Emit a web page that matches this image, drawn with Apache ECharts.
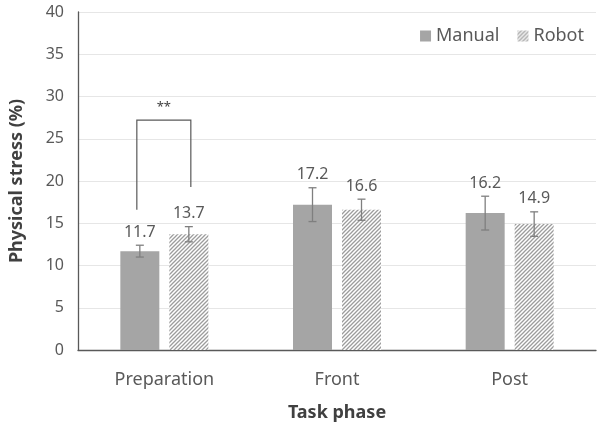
<!DOCTYPE html>
<html>
<head>
<meta charset="utf-8">
<script src="https://cdn.jsdelivr.net/npm/echarts@6/dist/echarts.min.js"></script>
<style>
  html, body { margin: 0; padding: 0; background: #fff; }
  #chart { width: 599px; height: 430px; }
</style>
</head>
<body>
<div id="chart"></div>
<script>
// data
const categories = ['Preparation', 'Front', 'Post'];
const manualValues = [11.7, 17.2, 16.2];
const robotValues = [13.7, 16.6, 14.9];
const manualErrors = [0.7, 2.0, 2.0];
const robotErrors = [0.9, 1.25, 1.45];
// significance bracket: category index, bracket top, left leg end, right leg end
const sigCategory = 0;
const sigLevels = [27.2, 16.6, 19.3];
const sigLabel = '**';

const BAR_W = 39;
const GAP = 10;
const OFF = (BAR_W + GAP) / 2;
const FONT = '"Noto Sans", "Open Sans", sans-serif';

// diagonal hatch for robot bars
const hatch = document.createElement('canvas');
hatch.width = 4; hatch.height = 4;
const hc = hatch.getContext('2d');
hc.fillStyle = '#ffffff';
hc.fillRect(0, 0, 4, 4);
hc.strokeStyle = '#9c9c9c';
hc.lineWidth = 1.3;
hc.beginPath();
hc.moveTo(0, 4); hc.lineTo(4, 0);
hc.moveTo(-1, 1); hc.lineTo(1, -1);
hc.moveTo(3, 5); hc.lineTo(5, 3);
hc.stroke();

function errorBars(offset) {
  return function (params, api) {
    const i = api.value(0);
    const v = api.value(1);
    const e = api.value(2);
    const x = api.coord([i, 0])[0] + offset;
    const yHi = api.coord([i, v + e])[1];
    const yLo = api.coord([i, v - e])[1];
    const st = { stroke: '#7f7f7f', lineWidth: 1.3 };
    return {
      type: 'group',
      children: [
        { type: 'line', shape: { x1: x, y1: yHi, x2: x, y2: yLo }, style: st },
        { type: 'line', shape: { x1: x - 4, y1: yHi, x2: x + 4, y2: yHi }, style: st },
        { type: 'line', shape: { x1: x - 4, y1: yLo, x2: x + 4, y2: yLo }, style: st },
        {
          type: 'text',
          style: {
            x: x, y: yHi - 5, text: v.toFixed(1),
            fill: '#595959', font: '16px ' + FONT,
            textAlign: 'center', textVerticalAlign: 'bottom'
          }
        }
      ]
    };
  };
}

function bracketRender(params, api) {
  const i = api.value(0);
  const cx = api.coord([i, 0])[0];
  const yTop = api.coord([i, api.value(1)])[1];
  const yL = api.coord([i, api.value(2)])[1];
  const yR = api.coord([i, api.value(3)])[1];
  const xl = cx - OFF - 3, xr = cx + OFF + 2;
  return {
    type: 'group',
    children: [
      {
        type: 'polyline',
        shape: { points: [[xl, yL], [xl, yTop], [xr, yTop], [xr, yR]] },
        style: { stroke: '#595959', lineWidth: 1.2, fill: null }
      },
      {
        type: 'text',
        style: {
          x: (xl + xr) / 2, y: yTop - 6, text: sigLabel,
          fill: '#404040', font: '13px ' + FONT,
          textAlign: 'center', textVerticalAlign: 'bottom'
        }
      }
    ]
  };
}

const chart = echarts.init(document.getElementById('chart'));
chart.setOption({
  animation: false,
  backgroundColor: '#ffffff',
  textStyle: { fontFamily: FONT },
  grid: { left: 78, right: 3, top: 12, bottom: 80 },
  legend: {
    data: ['Manual', 'Robot'],
    right: 10,
    top: 22,
    icon: 'rect',
    itemWidth: 11,
    itemHeight: 11,
    itemGap: 18,
    itemStyle: { borderWidth: 0 },
    textStyle: { color: '#595959', fontSize: 18, fontFamily: FONT }
  },
  xAxis: {
    type: 'category',
    data: categories,
    name: 'Task phase',
    nameLocation: 'middle',
    nameGap: 54,
    nameTextStyle: { color: '#404040', fontSize: 18, fontWeight: 'bold' },
    axisLine: { lineStyle: { color: '#595959', width: 1.3 } },
    axisTick: { show: false },
    axisLabel: { color: '#595959', fontSize: 18, margin: 21 }
  },
  yAxis: {
    type: 'value',
    min: 0, max: 40, interval: 5,
    name: 'Physical stress (%)',
    nameLocation: 'middle',
    nameGap: 52,
    nameTextStyle: { color: '#404040', fontSize: 18, fontWeight: 'bold' },
    axisLine: { show: true, lineStyle: { color: '#595959', width: 1.3 } },
    axisTick: { show: false },
    axisLabel: { color: '#595959', fontSize: 16, margin: 14 },
    splitLine: { lineStyle: { color: '#e6e6e6', width: 1 } }
  },
  series: [
    {
      name: 'Manual',
      type: 'bar',
      data: manualValues,
      barWidth: BAR_W,
      barGap: (GAP / BAR_W * 100) + '%',
      itemStyle: { color: '#a5a5a5' }
    },
    {
      name: 'Robot',
      type: 'bar',
      data: robotValues,
      barWidth: BAR_W,
      itemStyle: { color: { image: hatch, repeat: 'repeat' } }
    },
    {
      name: 'manualErr',
      type: 'custom',
      renderItem: errorBars(-OFF),
      data: categories.map((c, i) => [i, manualValues[i], manualErrors[i]]),
      z: 5
    },
    {
      name: 'robotErr',
      type: 'custom',
      renderItem: errorBars(OFF),
      data: categories.map((c, i) => [i, robotValues[i], robotErrors[i]]),
      z: 5
    },
    {
      name: 'significance',
      type: 'custom',
      renderItem: bracketRender,
      data: [[sigCategory].concat(sigLevels)],
      z: 5
    }
  ]
});
</script>
</body>
</html>
